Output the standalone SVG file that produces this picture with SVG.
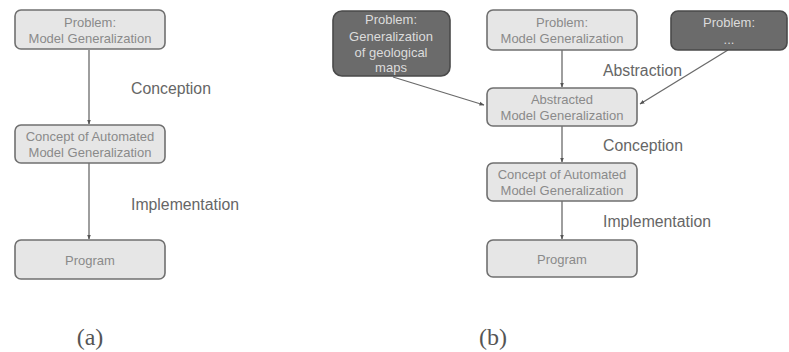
<svg xmlns="http://www.w3.org/2000/svg" width="789" height="352" viewBox="0 0 789 352">
<defs>
<marker id="ah" viewBox="0 0 10 10" refX="9" refY="5" markerWidth="5" markerHeight="5" orient="auto-start-reverse" markerUnits="userSpaceOnUse">
<path d="M0,1 L10,5 L0,9 z" fill="#555"/>
</marker>
<style>
.box{fill:#e6e6e6;stroke:#707070;stroke-width:1.6}
.dark{fill:#6b6b6b;stroke:#4a4a4a;stroke-width:1.6}
.bt{font-family:"Liberation Sans",Arial,sans-serif;font-size:13px;fill:#8a8a8a;text-anchor:middle}
.dt{font-family:"Liberation Sans",Arial,sans-serif;font-size:13px;fill:#dcdcdc;text-anchor:middle}
.lbl{font-family:"Liberation Sans",Arial,sans-serif;font-size:15.8px;fill:#666}
.cap{font-family:"Liberation Serif","Times New Roman",serif;font-size:24px;fill:#555;text-anchor:middle}
.edge{stroke:#6a6a6a;stroke-width:1.3;fill:none;marker-end:url(#ah)}
</style>
</defs>
<g id="connectors">
<line class="edge" x1="89" y1="50" x2="89" y2="124"/>
<line class="edge" x1="89" y1="163" x2="89" y2="239"/>
<line class="edge" x1="562" y1="50" x2="562" y2="87"/>
<line class="edge" x1="393" y1="77" x2="484" y2="105"/>
<line class="edge" x1="728" y1="50" x2="640" y2="104"/>
<line class="edge" x1="562" y1="126" x2="562" y2="162"/>
<line class="edge" x1="562" y1="201" x2="562" y2="239"/>
</g>
<g id="a-problem">
<rect class="box" x="15" y="10" width="150" height="39" rx="6"/>
<text class="bt" x="90" y="27">Problem:</text>
<text class="bt" x="90" y="43">Model Generalization</text>
</g>
<g id="a-concept">
<rect class="box" x="15" y="125" width="150" height="38" rx="6"/>
<text class="bt" x="90" y="141">Concept of Automated</text>
<text class="bt" x="90" y="157">Model Generalization</text>
</g>
<g id="a-program">
<rect class="box" x="15" y="240" width="150" height="39" rx="6"/>
<text class="bt" x="90" y="265">Program</text>
</g>
<text class="lbl" x="131" y="94">Conception</text>
<text class="lbl" x="131" y="210">Implementation</text>
<g id="b-geo">
<rect class="dark" x="333" y="11" width="117" height="65" rx="9"/>
<text class="dt" x="391" y="24">Problem:</text>
<text class="dt" x="391" y="41">Generalization</text>
<text class="dt" x="391" y="57">of geological</text>
<text class="dt" x="391" y="72">maps</text>
</g>
<g id="b-problem">
<rect class="box" x="487" y="10" width="150" height="40" rx="6"/>
<text class="bt" x="562" y="27">Problem:</text>
<text class="bt" x="562" y="43">Model Generalization</text>
</g>
<g id="b-other">
<rect class="dark" x="671" y="11" width="116" height="39" rx="7"/>
<text class="dt" x="729" y="27">Problem:</text>
<text class="dt" x="729" y="44">...</text>
</g>
<g id="b-abstracted">
<rect class="box" x="487" y="88" width="150" height="38" rx="6"/>
<text class="bt" x="562" y="104">Abstracted</text>
<text class="bt" x="562" y="120">Model Generalization</text>
</g>
<g id="b-concept">
<rect class="box" x="487" y="163" width="150" height="38" rx="6"/>
<text class="bt" x="562" y="179">Concept of Automated</text>
<text class="bt" x="562" y="195">Model Generalization</text>
</g>
<g id="b-program">
<rect class="box" x="487" y="240" width="150" height="37" rx="6"/>
<text class="bt" x="562" y="264">Program</text>
</g>
<text class="lbl" x="603" y="76">Abstraction</text>
<text class="lbl" x="603" y="151">Conception</text>
<text class="lbl" x="603" y="227">Implementation</text>
<text class="cap" x="90" y="345">(a)</text>
<text class="cap" x="493" y="345">(b)</text>
</svg>
